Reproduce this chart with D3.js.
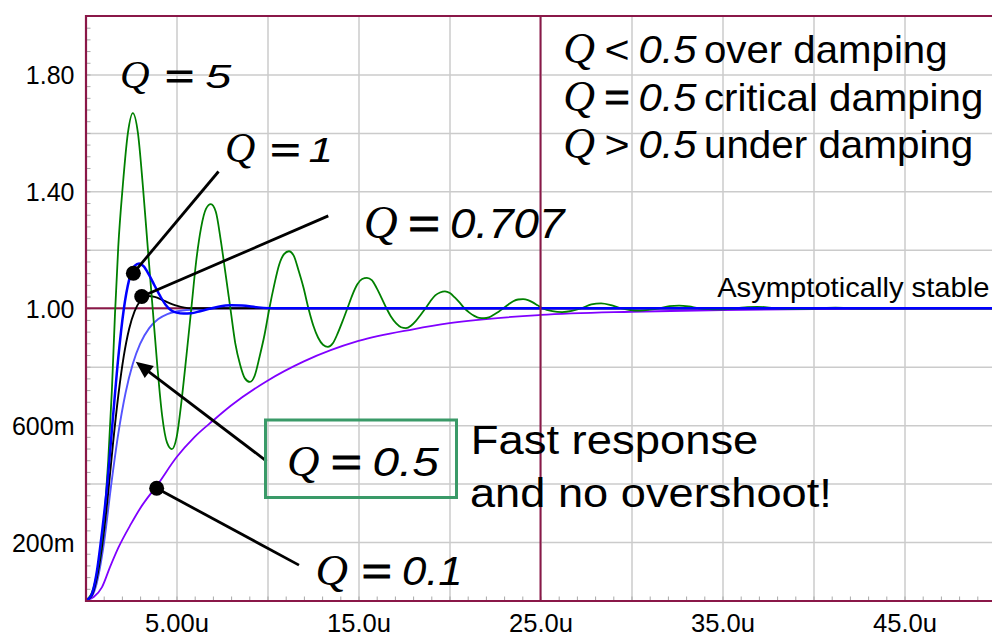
<!DOCTYPE html>
<html><head><meta charset="utf-8">
<script src="https://cdn.jsdelivr.net/npm/d3@7"></script>
<style>body{margin:0;background:#fff}</style></head>
<body><svg id="c" width="992" height="636"></svg>
<script>
// ---------------- data ----------------
const timeQ5 = [0,0.3,0.6,0.9,1.1,1.25,1.45,1.62,1.8,2.05,2.33,2.6,2.88,3.15,3.43,3.69,3.95,4.21,4.48,4.744,5.01,5.28,5.55,5.816,6.08,6.352,6.62,6.888,7.16,7.424,7.69,7.96,8.23,8.496,8.76,9.032,9.3,9.568,9.84,10.104,10.37,10.64,10.91,11.176,11.44,11.712,11.98,12.248,12.52,12.784,13.05,13.32,13.59,13.856,14.12,14.392,14.66,14.928,15.2,15.464,15.73,16.0,16.27,16.536,16.8,17.072,17.34,17.608,17.88,18.144,18.41,18.68,18.95,19.216,19.48,19.752,20.02,20.288,20.56,20.824,21.09,21.36,21.63,21.896,22.16,22.432,22.7,22.968,23.24,23.504,23.77,24.04,24.31,24.576,24.84,25.112,25.65,26.184,26.72,27.256,27.792,28.328,28.864,29.4,29.936,30.472,31.008,31.544,32.08,32.616,33.152,33.688,34.224,34.76,35.296,35.832,36.368,36.904,37.44,37.976,38.512,39.048,39.584,40.12,41.2,42.3,43.4,44.5,50];
const valueQ5 = [0,0.02,0.085,0.21,0.34,0.48,0.72,0.98,1.21,1.42,1.6,1.668,1.6,1.42,1.2,1.0,0.8,0.633,0.54,0.518,0.56,0.685,0.84,1.0,1.16,1.276,1.34,1.356,1.33,1.236,1.12,1.0,0.88,0.807,0.76,0.748,0.77,0.835,0.91,1.0,1.08,1.149,1.185,1.195,1.18,1.128,1.07,1.0,0.94,0.899,0.875,0.868,0.88,0.914,0.955,1.0,1.045,1.081,1.1,1.104,1.096,1.069,1.035,1.0,0.97,0.948,0.935,0.932,0.94,0.956,0.977,1.0,1.024,1.044,1.054,1.058,1.052,1.037,1.019,1.0,0.985,0.974,0.967,0.966,0.969,0.978,0.988,1.0,1.013,1.024,1.03,1.031,1.028,1.02,1.01,1.0,0.99,0.987,0.991,1.0,1.013,1.017,1.011,1.0,0.994,0.992,0.995,1.0,1.007,1.009,1.006,1.0,0.997,0.996,0.997,1.0,1.004,1.005,1.003,1.0,0.998,0.997,0.998,1.0,1.002,1.0,0.999,1.0,1.0];

const timeQ1 = [0,0.3,0.6,0.9,1.2,1.5,1.8,2.1,2.4,2.7,2.95,3.2,3.5,3.8,4.1,4.4,4.7,5.0,5.4,5.8,6.3,6.8,7.3,8.0,8.6,9.5,10.5,50];
const valueQ1 = [0,0.015,0.09,0.23,0.4,0.62,0.83,0.995,1.098,1.145,1.153,1.143,1.113,1.077,1.042,1.012,0.993,0.985,0.982,0.983,0.99,0.998,1.005,1.01,1.009,1.003,1.0,1.0];

const timeQ0707 = [0,0.3,0.6,0.9,1.2,1.5,1.8,2.1,2.4,2.7,3.0,3.4,3.8,4.3,5.0,5.8,50];
const valueQ0707 = [0,0.012,0.07,0.18,0.34,0.53,0.7,0.835,0.93,0.99,1.025,1.042,1.039,1.026,1.009,1.0,1.0];

const timeQ05 = [0,0.3,0.6,1.0,1.4,1.8,2.2,2.6,3.0,3.5,4.0,4.5,5.0,6.0,7.0,8.0,50];
const valueQ05 = [0,0.01,0.055,0.19,0.39,0.57,0.71,0.81,0.878,0.932,0.963,0.98,0.989,0.996,0.999,1.0,1.0];

const timeQ01 = [0,0.45,0.9,1.35,1.8,2.5,3.0,4.0,5.0,6.0,7.0,8.0,10,12,15,18,20,25,30,35,40,45,50];
const valueQ01 = [0,0.012,0.045,0.115,0.18,0.262,0.315,0.4,0.49,0.56,0.615,0.667,0.752,0.818,0.888,0.928,0.949,0.977,0.988,0.994,0.997,0.999,0.9995];

const yTickValues = [0.2, 0.6, 1.0, 1.4, 1.8];
const yTickLabels = ["200m", "600m", "1.00", "1.40", "1.80"];
const xTickValues = [5, 15, 25, 35, 45];
const xTickLabels = ["5.00u", "15.0u", "25.0u", "35.0u", "45.0u"];

// annotation anchors in data units [t, v]
const dotQ1 = [2.63, 1.12],  endQ1 = [7.31, 1.468];
const dotQ0707 = [3.09, 1.04], endQ0707 = [13.34, 1.316];
const arrowQ05From = [9.945, 0.477], arrowQ05Tip = [2.76, 0.817];
const dotQ01 = [3.91, 0.384], endQ01 = [11.73, 0.121];

// ---------------- drawing ----------------
const svg = d3.select("#c");
const X0 = 85.5, X1 = 995.5, YB = 600.5, YT = 16;
const x = d3.scaleLinear().domain([0, 50]).range([X0, X1]);
const y = d3.scaleLinear().domain([0, 2]).range([YB, YT]);
const maroon = "#8a1848";
const SANS = "'Liberation Sans', Arial, Helvetica, sans-serif";
const SERIF = "'Liberation Serif', 'Times New Roman', serif";

svg.append("rect").attr("width", 992).attr("height", 636).attr("fill", "#fff");

// grid
const gx = svg.append("g").attr("transform", `translate(0,${YB})`)
  .call(d3.axisBottom(x).tickValues(d3.range(5, 51, 5)).tickSize(-(YB - YT)).tickFormat(""));
gx.select(".domain").remove();
gx.selectAll("line").attr("stroke", "#cbcbcb").attr("stroke-width", 1.5);
const gy = svg.append("g").attr("transform", `translate(${X0},0)`)
  .call(d3.axisLeft(y).tickValues(d3.range(1, 10).map(i => i * 0.2)).tickSize(-(X1 - X0)).tickFormat(""));
gy.select(".domain").remove();
gy.selectAll("line").attr("stroke", "#cbcbcb").attr("stroke-width", 1.5);

// minor ticks
const mx = svg.append("g").attr("transform", `translate(0,${YB})`)
  .call(d3.axisBottom(x).tickValues(d3.range(1, 50)).tickSize(-4).tickFormat(""));
mx.select(".domain").remove();
mx.selectAll("line").attr("stroke", "#a8a8a8").attr("stroke-width", 1);
const my = svg.append("g").attr("transform", `translate(${X0},0)`)
  .call(d3.axisLeft(y).tickValues(d3.range(1, 50).map(i => i * 0.04)).tickSize(-5).tickFormat(""));
my.select(".domain").remove();
my.selectAll("line").attr("stroke", "#a8a8a8").attr("stroke-width", 1);

// tick labels
const ax = svg.append("g").attr("transform", `translate(0,${YB})`)
  .call(d3.axisBottom(x).tickValues(xTickValues).tickFormat((d, i) => xTickLabels[i]).tickSize(0).tickPadding(14));
ax.select(".domain").remove();
ax.selectAll("text").attr("font-family", SANS).attr("font-size", 25).attr("fill", "#000")
  .attr("textLength", 64).attr("lengthAdjust", "spacingAndGlyphs");
const ay = svg.append("g").attr("transform", `translate(${X0},0)`)
  .call(d3.axisLeft(y).tickValues(yTickValues).tickFormat((d, i) => yTickLabels[i]).tickSize(0).tickPadding(11));
ay.select(".domain").remove();
ay.selectAll("text").attr("font-family", SANS).attr("font-size", 25).attr("fill", "#000").attr("dy", "0.36em");

// horizontal cursor at 1.0
svg.append("line").attr("x1", X0).attr("x2", X1).attr("y1", y(1)).attr("y2", y(1))
  .attr("stroke", maroon).attr("stroke-width", 2);

// curves
svg.append("clipPath").attr("id", "clip").append("rect")
  .attr("x", X0).attr("y", YT).attr("width", X1 - X0).attr("height", YB - YT);
const line = d3.line().x(d => x(d[0])).y(d => y(d[1])).curve(d3.curveMonotoneX);
const series = [
  {t: timeQ01, v: valueQ01, c: "#8000ff", w: 1.8},
  {t: timeQ05, v: valueQ05, c: "#5454ff", w: 1.9},
  {t: timeQ0707, v: valueQ0707, c: "#000000", w: 1.9},
  {t: timeQ5, v: valueQ5, c: "#008000", w: 1.8},
  {t: timeQ1, v: valueQ1, c: "#0000ff", w: 2.5}
];
const cg = svg.append("g").attr("clip-path", "url(#clip)");
series.forEach(s => {
  cg.append("path").datum(s.t.map((t, i) => [t, s.v[i]]))
    .attr("d", line).attr("fill", "none").attr("stroke", s.c).attr("stroke-width", s.w)
    .attr("stroke-linejoin", "round");
});

// vertical cursor at 25u and frame
svg.append("line").attr("x1", x(25)).attr("x2", x(25)).attr("y1", YT).attr("y2", YB)
  .attr("stroke", maroon).attr("stroke-width", 2);
svg.append("path").attr("d", `M${X1},${YT}H${X0 + 0.5}V${YB + 0.5}H${X1}`)
  .attr("fill", "none").attr("stroke", maroon).attr("stroke-width", 2.2);

// annotations
const ann = svg.append("g");
function seg(a, b) {
  ann.append("line").attr("x1", x(a[0])).attr("y1", y(a[1])).attr("x2", x(b[0])).attr("y2", y(b[1]))
    .attr("stroke", "#000").attr("stroke-width", 2.8);
}
function dot(a) { ann.append("circle").attr("cx", x(a[0])).attr("cy", y(a[1])).attr("r", 7.5).attr("fill", "#000"); }
seg(dotQ1, endQ1); dot(dotQ1);
seg(dotQ0707, endQ0707); dot(dotQ0707);
seg(dotQ01, endQ01); dot(dotQ01);
(function arrow(a, b) {
  const x1 = x(a[0]), y1 = y(a[1]), x2 = x(b[0]), y2 = y(b[1]);
  const L = Math.hypot(x2 - x1, y2 - y1), ux = (x2 - x1) / L, uy = (y2 - y1) / L;
  const hl = 17, hw = 7.5;
  const bx = x2 - ux * hl, by = y2 - uy * hl;
  ann.append("line").attr("x1", x1).attr("y1", y1).attr("x2", bx + ux * 2).attr("y2", by + uy * 2)
    .attr("stroke", "#000").attr("stroke-width", 2.8);
  ann.append("path").attr("d", `M${x2},${y2}L${bx - uy * hw},${by + ux * hw}L${bx + uy * hw},${by - ux * hw}Z`)
    .attr("fill", "#000");
})(arrowQ05From, arrowQ05Tip);

// green box
svg.append("rect").attr("x", 265.5).attr("y", 420).attr("width", 191).attr("height", 77.5)
  .attr("fill", "none").attr("stroke", "#3a9a68").attr("stroke-width", 3);

// text helpers
function txt(s, inkL, inkR, base, size, fam, style, extra) {
  const t = svg.append("text").attr("x", inkL - 0.04 * size).attr("y", base)
    .attr("font-family", fam).attr("font-size", size).attr("font-style", style || "normal")
    .attr("fill", "#000").text(s);
  if (inkR != null) t.attr("textLength", (inkR - inkL) + 0.08 * size).attr("lengthAdjust", "spacingAndGlyphs");
  if (extra) extra(t);
  return t;
}
const boldEq = t => t.attr("stroke", "#000").attr("stroke-width", 1.1);
function eq(qL, qSize, relS, relL, relR, num, numL, numR, base, size) {
  txt("Q", qL, null, base, qSize, SERIF, "italic");
  txt(relS, relL, relR, base, size, SANS, "normal", relS === "=" ? boldEq : null);
  txt(num, numL, numR, base, size, SANS, "italic");
}
eq(121.7, 41, "=", 166.7, 192.7, "5", 206.7, 230, 88.3, 34);
eq(226.7, 42, "=", 272, 299, "1", 310, 331.7, 161.7, 35);
eq(365.7, 47, "=", 410, 438.3, "0.707", 451.7, 562.7, 238.3, 42);
eq(288.7, 45, "=", 332.7, 360.3, "0.5", 374, 437.2, 475.7, 40);
eq(317.4, 45, "=", 363.3, 390.1, "0.1", 403.5, 461, 585, 40);

// legend lines
const legend = [
  {rel: "<", words: "over damping", r: 946, base: 62.7},
  {rel: "=", words: "critical damping", r: 981.7, base: 111},
  {rel: ">", words: "under damping", r: 971.7, base: 158.3}
];
legend.forEach(l => {
  eq(565, 44, l.rel, 606, 628, "0.5", 640, 695, l.base, 39);
  txt(l.words, 705.5, l.r, l.base, 39, SANS, "normal");
});

txt("Fast response", 472.4, 756.7, 454.3, 41, SANS, "normal");
txt("and no overshoot!", 471.6, 830.2, 506.7, 41, SANS, "normal");
txt("Asymptotically stable", 718.3, 988.3, 296.7, 28, SANS, "normal");
</script>
</body></html>
